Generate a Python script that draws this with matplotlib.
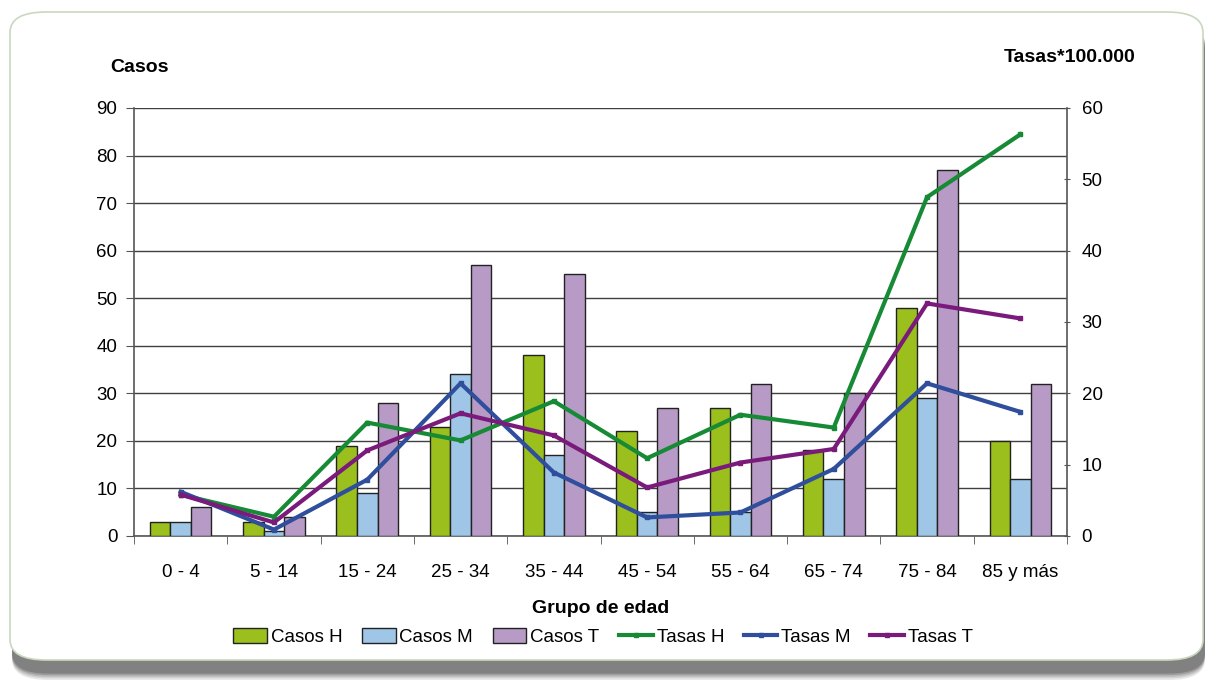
import matplotlib
matplotlib.use("Agg")
import matplotlib.pyplot as plt
import numpy as np
from matplotlib.patches import FancyBboxPatch, Patch
from matplotlib.lines import Line2D

plt.rcParams['font.family'] = ['Liberation Sans', 'DejaVu Sans']

categorias = ["0 - 4", "5 - 14", "15 - 24", "25 - 34", "35 - 44", "45 - 54",
              "55 - 64", "65 - 74", "75 - 84", "85 y más"]
casos_h = [3, 3, 19, 23, 38, 22, 27, 18, 48, 20]
casos_m = [3, 1, 9, 34, 17, 5, 5, 12, 29, 12]
casos_t = [6, 4, 28, 57, 55, 27, 32, 30, 77, 32]
tasas_h = [5.8, 2.7, 15.9, 13.4, 18.9, 10.9, 17.0, 15.2, 47.5, 56.3]
tasas_m = [6.2, 0.9, 7.9, 21.4, 8.9, 2.6, 3.3, 9.4, 21.4, 17.4]
tasas_t = [5.8, 1.9, 12.0, 17.2, 14.1, 6.8, 10.3, 12.2, 32.6, 30.5]

col_h = "#9BBF1C"
col_m = "#9FC6E7"
col_t = "#B79BC6"
lcol_h = "#178A36"
lcol_m = "#2F4E9C"
lcol_t = "#7A1B7C"

W, H = 1211, 680
fig = plt.figure(figsize=(W / 100, H / 100), dpi=100)
fig.patch.set_facecolor("white")

# frame with shadow
for i, a in enumerate([0.10, 0.12, 0.15, 0.2, 0.25]):
    off = 10 - i * 1.6
    sh = FancyBboxPatch((12 / W, (10 - off) / H), (1193) / W, (650) / H,
                        boxstyle="round,pad=0,rounding_size=0.03",
                        transform=fig.transFigure, facecolor="#303030",
                        edgecolor="none", alpha=a, zorder=0)
    fig.patches.append(sh)
box = FancyBboxPatch((10 / W, 20 / H), 1193 / W, 648 / H,
                     boxstyle="round,pad=0,rounding_size=0.03",
                     transform=fig.transFigure, facecolor="white",
                     edgecolor="#c8d8c0", linewidth=1.2, zorder=1)
fig.patches.append(box)

ax = fig.add_axes([134 / W, 1 - 536 / H, 933 / W, 428 / H])
ax.set_zorder(2)
ax.patch.set_alpha(0)
x = np.arange(len(categorias))
bw = 0.22
ax.bar(x - bw, casos_h, bw, color=col_h, edgecolor="#222222", linewidth=1.0, zorder=3)
ax.bar(x, casos_m, bw, color=col_m, edgecolor="#222222", linewidth=1.0, zorder=3)
ax.bar(x + bw, casos_t, bw, color=col_t, edgecolor="#222222", linewidth=1.0, zorder=3)
ax.set_xlim(-0.5, len(categorias) - 0.5)
ax.set_ylim(0, 90)
ax.set_yticks(range(0, 91, 10))
ax.yaxis.grid(True, color="#404040", linewidth=1.0, zorder=0)
ax.set_axisbelow(True)
ax.set_xticks(x)
ax.set_xticklabels(categorias, fontsize=13.5)
ax.set_xticks(np.arange(-0.5, len(categorias)), minor=True)
ax.tick_params(axis='x', which='major', length=0, pad=20)
ax.tick_params(axis='x', which='minor', length=6, color="#555555", direction='out')
ax.tick_params(axis='y', labelsize=13.5, length=6, color="#555555", direction='out', pad=6)
for s in ["top", "right"]:
    ax.spines[s].set_visible(False)
for s in ["left", "bottom"]:
    ax.spines[s].set_color("#555555")
    ax.spines[s].set_linewidth(1.2)
ax.set_xlabel("Grupo de edad", fontsize=14, fontweight="bold", labelpad=14)

ax2 = ax.twinx()
ax2.set_ylim(0, 60)
ax2.set_yticks(range(0, 61, 10))
ax2.tick_params(axis='y', labelsize=13.5, length=5, color="#555555", direction='inout', pad=8)
for s in ["top", "left", "bottom"]:
    ax2.spines[s].set_visible(False)
ax2.spines["right"].set_color("#555555")
ax2.spines["right"].set_linewidth(1.2)
lw = 3.0
ax2.plot(x, tasas_h, color=lcol_h, linewidth=lw, marker="s", markersize=3.5, zorder=4)
ax2.plot(x, tasas_m, color=lcol_m, linewidth=lw, marker="s", markersize=3.5, zorder=4)
ax2.plot(x, tasas_t, color=lcol_t, linewidth=lw, marker="s", markersize=3.5, zorder=4)

fig.text(110 / W, 1 - 67 / H, "Casos", fontsize=14, fontweight="bold", va="center", ha="left")
fig.text(1135 / W, 1 - 58 / H, "Tasas*100.000", fontsize=14, fontweight="bold", va="center", ha="right")

handles = [
    Patch(facecolor=col_h, edgecolor="#222222", linewidth=1.0, label="Casos H"),
    Patch(facecolor=col_m, edgecolor="#222222", linewidth=1.0, label="Casos M"),
    Patch(facecolor=col_t, edgecolor="#222222", linewidth=1.0, label="Casos T"),
    Line2D([0], [0], color=lcol_h, linewidth=lw, marker="s", markersize=3.5, label="Tasas H"),
    Line2D([0], [0], color=lcol_m, linewidth=lw, marker="s", markersize=3.5, label="Tasas M"),
    Line2D([0], [0], color=lcol_t, linewidth=lw, marker="s", markersize=3.5, label="Tasas T"),
]
fig.legend(handles=handles, loc="center", bbox_to_anchor=(603 / W, 1 - 637 / H), ncol=6,
           frameon=False, fontsize=13.5, handlelength=1.8, handletextpad=0.2,
           columnspacing=1.05, handleheight=0.9)

fig.savefig("out.png", dpi=100, facecolor="white")
